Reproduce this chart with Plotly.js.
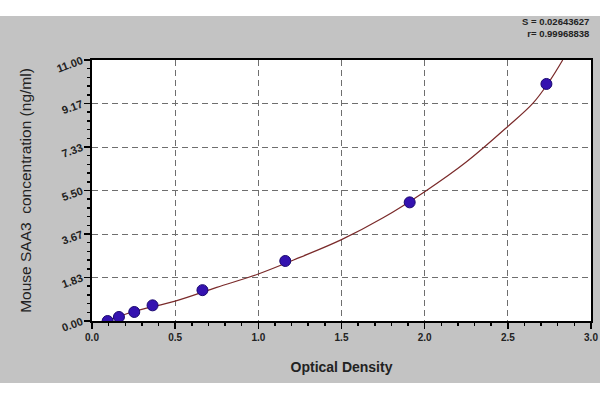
<!DOCTYPE html>
<html>
<head>
<meta charset="utf-8">
<script src="https://cdn.plot.ly/plotly-3.0.1.min.js"></script>
<style>
  body { margin: 0; background: #ffffff; }
  #chart { width: 600px; height: 367px; margin-top: 16px; }
</style>
</head>
<body>
<div id="chart"></div>
<script>
// standard points (optical density vs concentration)
const odValues = [0.094, 0.162, 0.254, 0.364, 0.664, 1.162, 1.91, 2.732];
const concValues = [0.0, 0.17, 0.38, 0.66, 1.30, 2.53, 5.0, 9.99];

// fitted curve
const curveOd = [0.09, 0.25, 0.5, 0.75, 1.0, 1.25, 1.5, 1.75, 2.0, 2.25, 2.5, 2.65, 2.75, 2.83];
const curveConc = [0.0, 0.40, 0.84, 1.42, 1.98, 2.68, 3.43, 4.35, 5.45, 6.70, 8.20, 9.17, 10.1, 11.0];

const yTickVals = [0, 11 / 6, 22 / 6, 33 / 6, 44 / 6, 55 / 6, 11];
const yTickText = ['0.00', '1.83', '3.67', '5.50', '7.33', '9.17', '11.00'];
const xTickVals = [0, 0.5, 1.0, 1.5, 2.0, 2.5, 3.0];
const xTickText = ['0.0', '0.5', '1.0', '1.5', '2.0', '2.5', '3.0'];

const statsText = 'S = 0.02643627<br>r= 0.99968838';

const font = 'Liberation Sans, Arial, sans-serif';

let curve = {
  x: curveOd,
  y: curveConc,
  type: 'scatter',
  mode: 'lines',
  line: { color: '#7a2a2a', width: 1.2, shape: 'spline', smoothing: 1 },
  hoverinfo: 'skip',
};

let points = {
  x: odValues,
  y: concValues,
  type: 'scatter',
  mode: 'markers',
  marker: { color: '#3412b0', size: 11, line: { color: '#1a0870', width: 1 } },
};

let axisCommon = {
  showline: true,
  mirror: true,
  linecolor: '#000000',
  linewidth: 2,
  showgrid: true,
  gridcolor: '#6e6e6e',
  griddash: '6px,4px',
  gridwidth: 1,
  zeroline: false,
  ticks: 'outside',
  ticklen: 6,
  tickwidth: 1.5,
  tickcolor: '#000000',
  tickmode: 'array',
  tickfont: { family: font, size: 10, color: '#222222', weight: 'bold' },
};

let layout = {
  width: 600,
  height: 367,
  margin: { l: 92, r: 9, t: 44, b: 62 },
  paper_bgcolor: '#c3c3c3',
  plot_bgcolor: '#ffffff',
  showlegend: false,
  font: { family: font, color: '#222222' },
  xaxis: Object.assign({}, axisCommon, {
    range: [0, 3.0],
    tickvals: xTickVals,
    ticktext: xTickText,
    minor: { dtick: 0.1, ticks: 'outside', ticklen: 3, tickcolor: '#000000', showgrid: false },
    title: { text: 'Optical Density', font: { family: font, size: 14, weight: 'bold', color: '#222222' }, standoff: 20 },
  }),
  yaxis: Object.assign({}, axisCommon, {
    range: [0, 11],
    tickvals: yTickVals,
    ticktext: yTickText,
    tickangle: -20,
    tickfont: { family: font, size: 11, color: '#222222', weight: 'bold' },
    minor: { dtick: 11 / 30, ticks: 'outside', ticklen: 3, tickcolor: '#000000', showgrid: false },
    title: { text: 'Mouse SAA3  concentration (ng/ml)', font: { family: font, size: 15.5, color: '#222222' }, standoff: 20 },
  }),
  annotations: [{
    xref: 'paper', yref: 'paper',
    x: 1.0, y: 1.123,
    xanchor: 'right', yanchor: 'middle',
    align: 'right',
    showarrow: false,
    text: statsText,
    font: { family: font, size: 9.5, color: '#222222', weight: 'bold' },
  }],
};

Plotly.newPlot('chart', [curve, points], layout, { displayModeBar: false, staticPlot: true });
</script>
</body>
</html>
